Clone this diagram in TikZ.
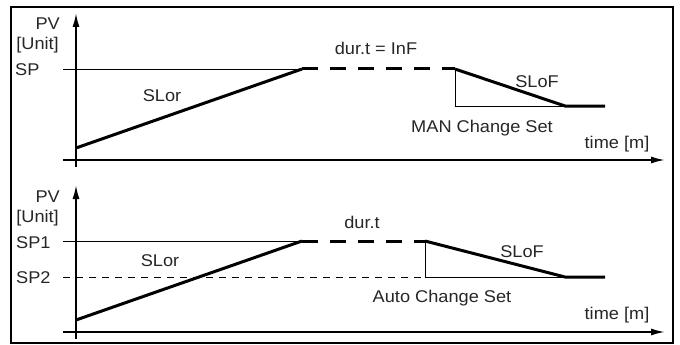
\documentclass[tikz,border=0pt]{standalone}
\usepackage{fontspec}
\setmainfont{Liberation Sans}[FakeStretch=1.07]
\usetikzlibrary{arrows.meta}
\begin{document}
\begin{tikzpicture}[x=1pt,y=-1pt,
  lbl/.style={font=\fontsize{17}{20}\selectfont, inner sep=0pt, text=black!85},
  axisline/.style={line width=1.8pt, -{Latex[length=14pt,width=7pt]}},
  thinline/.style={line width=0.9pt},
  thickline/.style={line width=3pt},
  dashthick/.style={line width=3pt, dash pattern=on 16pt off 12pt},
  dashthin/.style={line width=0.9pt, dash pattern=on 7pt off 6pt},
  framebox/.style={line width=2pt}]
\useasboundingbox (0,0) rectangle (680,345);
% frame
\coordinate (fA) at (11,7);
\coordinate (fB) at (673,343);
\draw[framebox] (fA) rectangle (fB);

% ===== upper panel =====
\coordinate (uYb) at (76,167);
\coordinate (uYt) at (76,13);
\coordinate (uXl) at (63,160);
\coordinate (uXr) at (665,160);
\coordinate (uSPl) at (63,69);
\coordinate (uRs) at (76,148);
\coordinate (uRe) at (302,69);
\coordinate (uFs) at (455,69);
\coordinate (uFb) at (455,106);
\coordinate (uFe) at (565,106);
\coordinate (uEnd) at (605,106);
\draw[axisline] (uYb) -- (uYt);
\draw[axisline] (uXl) -- (uXr);
\draw[thinline] (uSPl) -- (uRe);
\draw[thinline] (uFs) -- (uFb) -- (uFe);
\draw[thickline] (uRs) -- (uRe);
\draw[dashthick] (uRe) -- (uFs);
\draw[thickline] (uFs) -- (uFe) -- (uEnd);

\node[lbl, anchor=base east] (uPV) at (60,30) {PV};
\node[lbl, anchor=base east] (uUnit) at (59,50) {[Unit]};
\node[lbl, anchor=base west] (uSP) at (15,75) {SP};
\node[lbl, anchor=base] (uSLor) at (162,102) {SLor};
\node[lbl, anchor=base] (uDur) at (376,55) {dur.t = InF};
\node[lbl, anchor=base] (uSLoF) at (537,88) {SLoF};
\node[lbl, anchor=base] (uMan) at (482,132) {MAN Change Set};
\node[lbl, anchor=base] (uTime) at (617,148) {time [m]};

% ===== lower panel =====
\coordinate (lYb) at (76,339);
\coordinate (lYt) at (76,185);
\coordinate (lXl) at (63,332);
\coordinate (lXr) at (665,332);
\coordinate (lSP1l) at (63,241);
\coordinate (lSP2l) at (63,277);
\coordinate (lRs) at (76,320);
\coordinate (lRe) at (302,241);
\coordinate (lFs) at (425,241);
\coordinate (lFb) at (425,277);
\coordinate (lFe) at (565,277);
\coordinate (lEnd) at (605,277);
\draw[axisline] (lYb) -- (lYt);
\draw[axisline] (lXl) -- (lXr);
\draw[thinline] (lSP1l) -- (lRe);
\draw[dashthin] (lSP2l) -- (lFb);
\draw[thinline] (lFs) -- (lFb) -- (lFe);
\draw[thickline] (lRs) -- (lRe);
\draw[dashthick] (lRe) -- (lFs);
\draw[thickline] (lFs) -- (lFe) -- (lEnd);

\node[lbl, anchor=base east] (lPV) at (60,202) {PV};
\node[lbl, anchor=base east] (lUnit) at (59,222) {[Unit]};
\node[lbl, anchor=base west] (lSP1) at (16,248) {SP1};
\node[lbl, anchor=base west] (lSP2) at (16,283) {SP2};
\node[lbl, anchor=base] (lSLor) at (160,266) {SLor};
\node[lbl, anchor=base] (lDur) at (362,228) {dur.t};
\node[lbl, anchor=base] (lSLoF) at (522,257) {SLoF};
\node[lbl, anchor=base] (lAuto) at (442,302) {Auto Change Set};
\node[lbl, anchor=base] (lTime) at (617,319) {time [m]};
\end{tikzpicture}
\end{document}
